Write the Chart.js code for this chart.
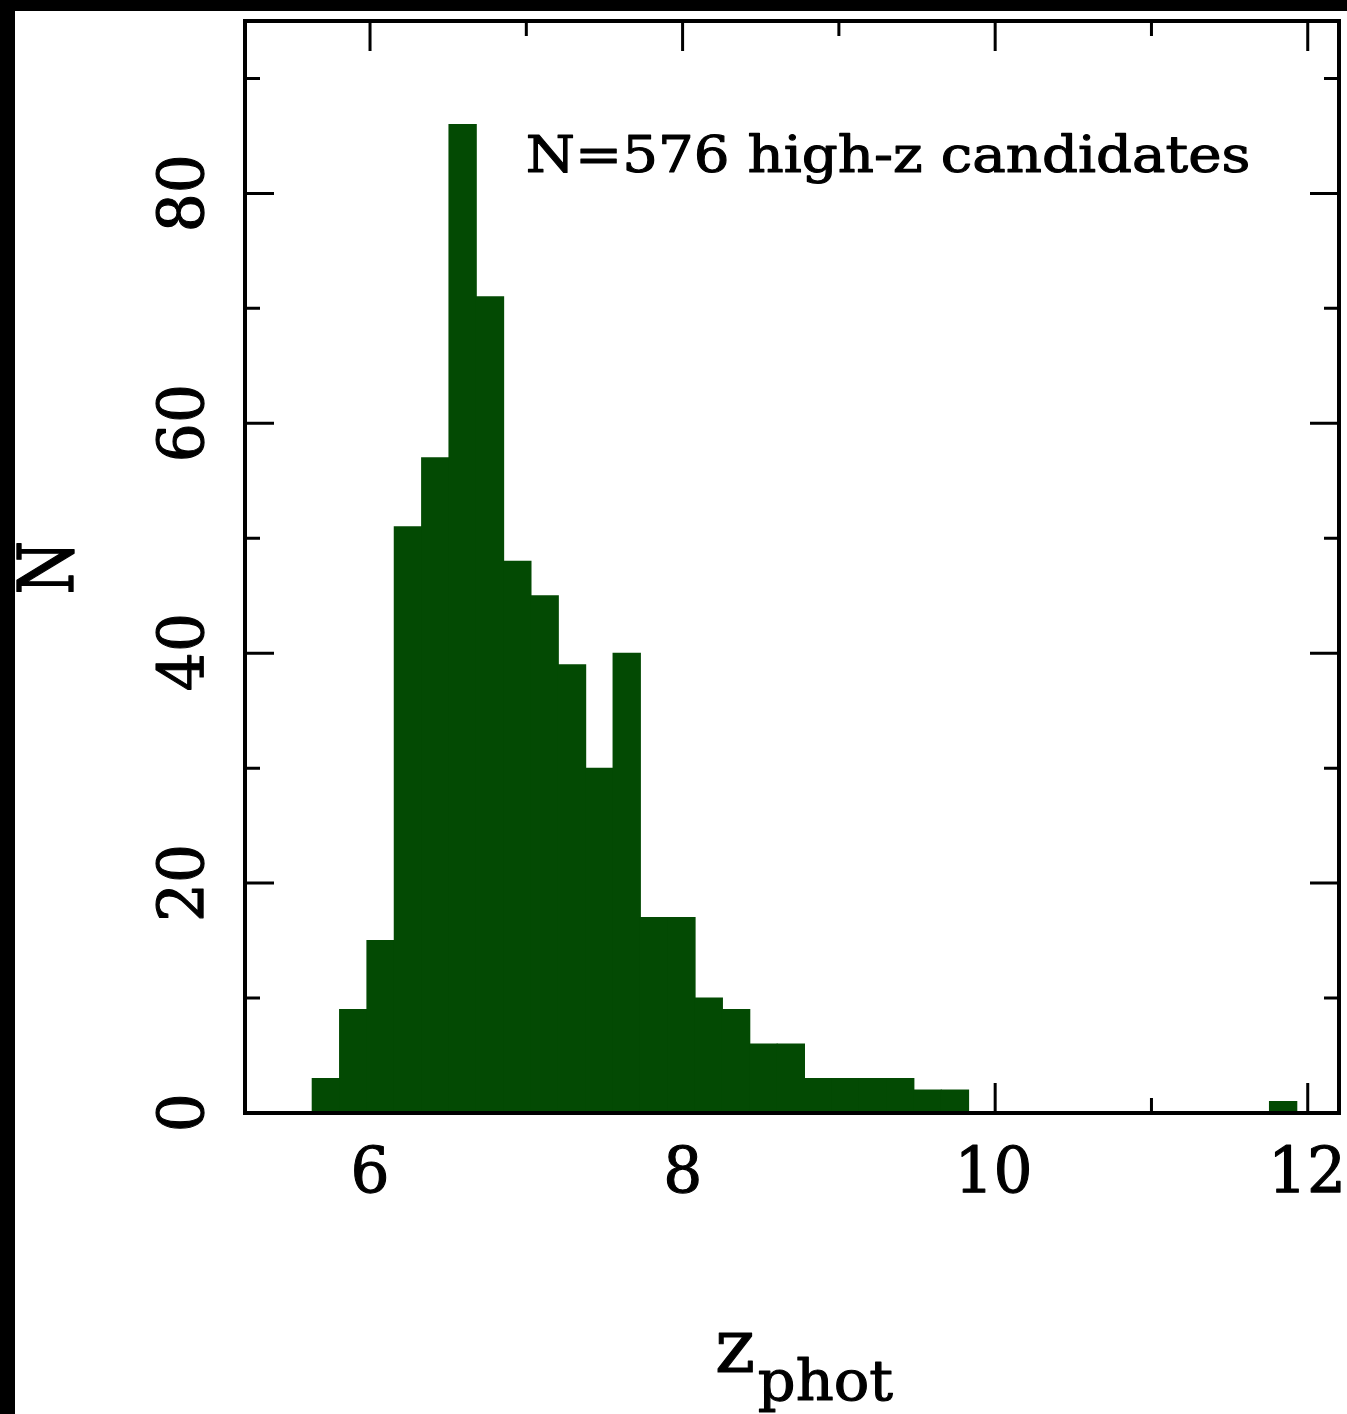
<!DOCTYPE html>
<html>
<head>
<meta charset="utf-8">
<title>z_phot histogram</title>
<script src="https://cdn.jsdelivr.net/npm/chart.js@4.4.1/dist/chart.umd.min.js"></script>
<style>
  html, body { margin: 0; padding: 0; background: #fff; }
  canvas { display: block; }
</style>
</head>
<body>
<canvas id="histChart" width="1347" height="1414"></canvas>
<script>
// bin edges in z_phot (37 edges -> 36 bins)
const binEdges = [5.630, 5.805, 5.980, 6.155, 6.330, 6.505, 6.680, 6.855, 7.030, 7.205,
  7.380, 7.555, 7.730, 7.905, 8.080, 8.255, 8.430, 8.605, 8.780, 8.955,
  9.130, 9.305, 9.480, 9.655, 9.830, 10.005, 10.180, 10.355, 10.530, 10.705,
  10.880, 11.055, 11.230, 11.405, 11.580, 11.755, 11.930];
// number of candidates per bin
const counts = [3, 9, 15, 51, 57, 86, 71, 48, 45, 39, 30, 40, 17, 17, 10, 9, 6, 6,
  3, 3, 3, 3, 2, 2, 0, 0, 0, 0, 0, 0, 0, 0, 0, 0, 0, 1];

const xMajorTicks = [6, 8, 10, 12];
const xMinorTicks = [7, 9, 11];
const yMajorTicks = [0, 20, 40, 60, 80];
const yMinorTicks = [10, 30, 50, 70, 90];
const xTickLabels = ['6', '8', '10', '12'];
const yTickLabels = ['0', '20', '40', '60', '80'];
const noteText = 'N=576 high-z candidates';

const FONT = '"DejaVu Serif", "Liberation Serif", serif';
const barColor = '#034a03';

const points = counts.map((n, i) => ({ x: (binEdges[i] + binEdges[i + 1]) / 2, y: n }));

function inkBox(ctx, txt) {
  const m = ctx.measureText(txt);
  return {
    left: m.actualBoundingBoxLeft,
    w: m.actualBoundingBoxLeft + m.actualBoundingBoxRight,
    asc: m.actualBoundingBoxAscent,
    desc: m.actualBoundingBoxDescent
  };
}

// scale factors so the ink of txt is w wide and ref is h tall
function scaleFor(ctx, txt, ref, w, h) {
  ctx.save();
  ctx.font = '100px ' + FONT;
  const b = inkBox(ctx, txt), r = inkBox(ctx, ref);
  ctx.restore();
  return { sx: w / b.w, sy: h / r.asc };
}

// draw txt with baseline at (x,y), ink centred or left aligned; a thin stroke thickens it a bit
function drawInk(ctx, txt, x, y, s, align, rot) {
  ctx.save();
  ctx.font = '100px ' + FONT;
  ctx.textAlign = 'left';
  ctx.textBaseline = 'alphabetic';
  ctx.fillStyle = '#000';
  ctx.strokeStyle = '#000';
  ctx.lineJoin = 'round';
  const b = inkBox(ctx, txt);
  ctx.translate(x, y);
  if (rot) ctx.rotate(rot);
  ctx.scale(s.sx, s.sy);
  ctx.lineWidth = 1.1 / Math.min(s.sx, s.sy);
  const x0 = align === 'center' ? b.left - b.w / 2 : b.left;
  ctx.fillText(txt, x0, 0);
  ctx.strokeText(txt, x0, 0);
  ctx.restore();
}

const framePlugin = {
  id: 'frame',
  beforeDraw(chart) {
    const ctx = chart.ctx;
    ctx.save();
    ctx.fillStyle = '#fff';
    ctx.fillRect(0, 0, chart.width, chart.height);
    ctx.fillStyle = '#000';
    ctx.fillRect(0, 0, chart.width, 11);
    ctx.fillRect(0, 0, 15, chart.height);
    ctx.restore();
  },
  beforeDatasetsDraw(chart) {
    // inward ticks on all four sides (bars are drawn over them)
    const ctx = chart.ctx;
    const { left, right, top, bottom } = chart.chartArea;
    const xs = chart.scales.x, ys = chart.scales.y;
    ctx.save();
    ctx.strokeStyle = '#000';
    ctx.lineWidth = 3;
    ctx.beginPath();
    const tx = (v, len) => {
      const p = xs.getPixelForValue(v);
      ctx.moveTo(p, bottom); ctx.lineTo(p, bottom - len);
      ctx.moveTo(p, top); ctx.lineTo(p, top + len);
    };
    const ty = (v, len) => {
      const p = ys.getPixelForValue(v);
      ctx.moveTo(left, p); ctx.lineTo(left + len, p);
      ctx.moveTo(right, p); ctx.lineTo(right - len, p);
    };
    xMajorTicks.forEach(v => tx(v, 30));
    xMinorTicks.forEach(v => tx(v, 15));
    yMajorTicks.forEach(v => ty(v, 29));
    yMinorTicks.forEach(v => ty(v, 15));
    ctx.stroke();
    ctx.restore();
  },
  afterDatasetsDraw(chart) {
    const ctx = chart.ctx;
    const { left, right, top, bottom } = chart.chartArea;
    const xs = chart.scales.x, ys = chart.scales.y;
    ctx.save();
    ctx.strokeStyle = '#000';
    ctx.lineWidth = 4;
    ctx.strokeRect(left, top, right - left, bottom - top);
    ctx.restore();

    const tickScale = scaleFor(ctx, '10', '0', 66.7, 46.5);
    xMajorTicks.forEach((v, i) => {
      drawInk(ctx, xTickLabels[i], xs.getPixelForValue(v), 1193, tickScale, 'center');
    });
    yMajorTicks.forEach((v, i) => {
      drawInk(ctx, yTickLabels[i], 204, ys.getPixelForValue(v), tickScale, 'center', -Math.PI / 2);
    });

    drawInk(ctx, noteText, 528, 172.3, scaleFor(ctx, noteText, 'N', 720, 36.6), 'left');
    drawInk(ctx, 'N', 73, 567.5, scaleFor(ctx, 'N', 'N', 49, 56), 'center', -Math.PI / 2);
    drawInk(ctx, 'z', 718, 1372, scaleFor(ctx, 'z', 'z', 35, 39), 'left');
    drawInk(ctx, 'phot', 759, 1400, scaleFor(ctx, 'phot', 'h', 134, 42), 'left');
  }
};

new Chart(document.getElementById('histChart'), {
  type: 'bar',
  data: {
    datasets: [{
      data: points,
      backgroundColor: barColor,
      borderWidth: 0,
      barPercentage: 1,
      categoryPercentage: 1,
      inflateAmount: 0.5
    }]
  },
  options: {
    responsive: false,
    animation: false,
    devicePixelRatio: 1,
    layout: { padding: { left: 245, top: 21, right: 8, bottom: 301 } },
    scales: {
      x: { type: 'linear', min: 5.2, max: 12.2, offset: false, display: false },
      y: { min: 0, max: 95, display: false }
    },
    plugins: {
      legend: { display: false },
      tooltip: { enabled: false }
    }
  },
  plugins: [framePlugin]
});
</script>
</body>
</html>
